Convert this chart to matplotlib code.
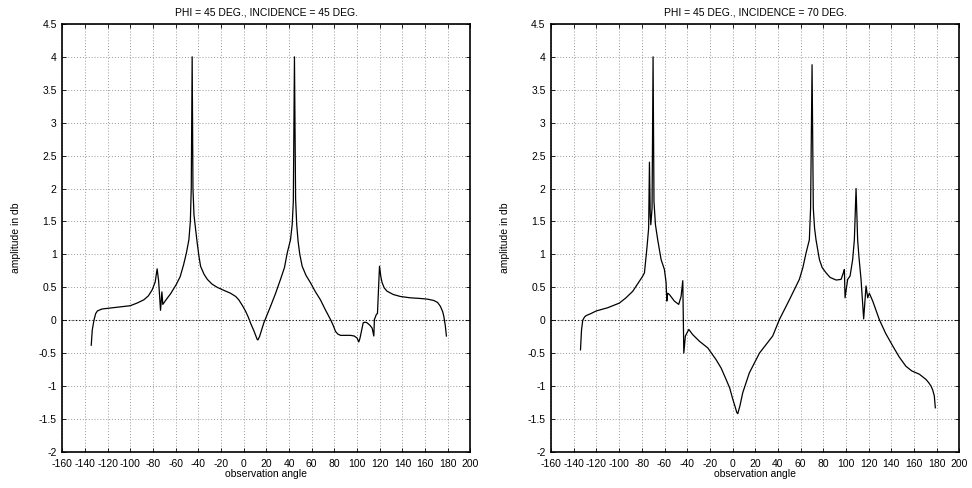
import matplotlib
matplotlib.use('Agg')
import matplotlib.pyplot as plt
from matplotlib.ticker import MultipleLocator, FormatStrFormatter

plt.rcParams['font.family'] = ['Liberation Sans Narrow', 'Liberation Sans', 'DejaVu Sans']
plt.rcParams['axes.unicode_minus'] = False

# Panel izquierdo: incidencia 45 grados
ang_45 = [-134.4, -133.5, -132.0, -130.5, -129.0, -125.0, -120.0, -110.0, -100.0, -94.0,
          -88.0, -84.0, -80.7, -78.0, -76.3, -75.0, -73.3, -72.1, -71.3, -68.0,
          -64.5, -59.5, -56.0, -53.0, -50.5, -48.3, -47.0, -46.2, -45.4, -44.7,
          -43.8, -42.5, -41.0, -39.5, -38.0, -35.0, -32.0, -28.0, -23.4, -17.0,
          -11.6, -7.0, -4.3, -1.0, 1.6, 4.0, 6.0, 9.0, 11.9, 12.5,
          14.0, 17.8, 23.7, 28.0, 32.5, 36.0, 38.4, 41.3, 42.8, 43.8,
          44.8, 45.8, 46.8, 48.0, 49.5, 51.6, 55.0, 58.9, 63.0, 67.7,
          72.0, 76.6, 79.0, 81.0, 83.0, 85.4, 90.0, 94.2, 97.5, 100.0,
          101.5, 102.5, 103.6, 105.4, 107.0, 108.9, 111.5, 113.3, 114.8, 115.3,
          117.1, 118.0, 119.8, 121.0, 122.1, 124.0, 126.5, 132.0, 138.3, 147.0,
          155.9, 162.0, 167.6, 171.0, 173.5, 175.5, 176.5, 177.8, 178.8]
amp_45 = [-0.38, -0.15, 0.00, 0.10, 0.14, 0.17, 0.18, 0.20, 0.22, 0.26,
          0.31, 0.37, 0.46, 0.58, 0.78, 0.60, 0.15, 0.43, 0.24, 0.32,
          0.40, 0.54, 0.66, 0.84, 1.02, 1.22, 1.50, 2.00, 4.00, 2.00,
          1.60, 1.40, 1.18, 0.98, 0.82, 0.70, 0.62, 0.55, 0.50, 0.45,
          0.41, 0.36, 0.31, 0.22, 0.14, 0.05, -0.04, -0.16, -0.29, -0.30,
          -0.25, -0.04, 0.21, 0.40, 0.62, 0.80, 1.02, 1.22, 1.45, 1.80,
          4.00, 1.85, 1.45, 1.20, 1.00, 0.82, 0.68, 0.57, 0.44, 0.31,
          0.16, 0.01, -0.08, -0.17, -0.21, -0.23, -0.23, -0.23, -0.24, -0.27,
          -0.33, -0.28, -0.19, -0.04, -0.03, -0.04, -0.08, -0.12, -0.24, 0.01,
          0.09, 0.10, 0.82, 0.66, 0.57, 0.49, 0.44, 0.39, 0.36, 0.34,
          0.33, 0.32, 0.30, 0.27, 0.21, 0.13, 0.06, -0.08, -0.24]

# Panel derecho: incidencia 70 grados
ang_70 = [-134.1, -133.2, -132.1, -130.5, -129.1, -125.0, -120.3, -110.0, -99.8, -94.0,
          -88.0, -83.0, -79.2, -77.7, -75.5, -74.0, -73.3, -72.6, -72.1, -71.0,
          -70.1, -69.3, -68.0, -66.0, -63.0, -60.1, -58.6, -58.0, -57.2, -55.7,
          -51.3, -47.5, -45.4, -43.9, -43.0, -41.6, -38.6, -35.1, -29.2, -21.9,
          -14.5, -10.0, -5.7, -2.5, 0.2, 2.0, 3.7, 4.6, 6.5, 9.0,
          14.8, 23.7, 35.4, 41.3, 50.1, 58.9, 62.0, 64.8, 67.7, 68.8,
          70.1, 71.2, 72.3, 73.6, 76.6, 79.0, 82.4, 86.0, 91.3, 95.7,
          97.7, 98.6, 99.2, 101.5, 103.6, 105.9, 107.4, 108.9, 110.3, 111.5,
          113.3, 115.6, 117.7, 119.2, 120.6, 123.6, 129.4, 135.0, 141.2, 147.0,
          152.9, 158.0, 164.7, 170.6, 173.0, 175.0, 176.5, 177.9, 178.8]
amp_70 = [-0.45, -0.15, 0.00, 0.05, 0.07, 0.10, 0.14, 0.19, 0.26, 0.34,
          0.44, 0.57, 0.67, 0.72, 1.10, 1.40, 2.40, 1.60, 1.45, 1.70,
          4.00, 1.80, 1.45, 1.22, 0.92, 0.77, 0.57, 0.29, 0.41, 0.39,
          0.29, 0.24, 0.36, 0.60, -0.50, -0.24, -0.14, -0.22, -0.32, -0.42,
          -0.60, -0.73, -0.90, -1.03, -1.20, -1.30, -1.40, -1.42, -1.30, -1.10,
          -0.80, -0.50, -0.24, 0.01, 0.31, 0.62, 0.80, 1.02, 1.22, 1.70,
          3.88, 1.70, 1.40, 1.22, 0.92, 0.80, 0.72, 0.65, 0.61, 0.62,
          0.72, 0.77, 0.34, 0.62, 0.67, 0.92, 1.22, 2.00, 1.22, 0.95,
          0.62, 0.02, 0.52, 0.34, 0.41, 0.29, 0.01, -0.20, -0.39, -0.56,
          -0.70, -0.77, -0.82, -0.90, -0.95, -1.00, -1.06, -1.15, -1.33]

titulos = ['PHI = 45 DEG., INCIDENCE = 45 DEG.', 'PHI = 45 DEG., INCIDENCE = 70 DEG.']
series = [(ang_45, amp_45), (ang_70, amp_70)]
posiciones = [[0.064, 0.074, 0.420, 0.877], [0.567, 0.074, 0.420, 0.877]]

fig = plt.figure(figsize=(9.72, 4.88), dpi=100, facecolor='white')

for pos, titulo, (x, y) in zip(posiciones, titulos, series):
    ax = fig.add_axes(pos)
    ax.plot(x, y, color='black', linewidth=0.9)
    ax.set_xlim(-160, 200)
    ax.set_ylim(-2, 4.5)
    ax.xaxis.set_major_locator(MultipleLocator(20))
    ax.yaxis.set_major_locator(MultipleLocator(0.5))
    ax.xaxis.set_major_formatter(FormatStrFormatter('%g'))
    ax.yaxis.set_major_formatter(FormatStrFormatter('%g'))
    ax.grid(True, color='#999999', linestyle=(0, (1, 2)), linewidth=0.7)
    ax.axhline(0, color='black', linestyle=(0, (1, 2)), linewidth=0.8)
    ax.tick_params(direction='in', length=3, width=0.6, labelsize=7.5,
                   top=True, right=True)
    ax.tick_params(axis='x', pad=5)
    ax.tick_params(axis='y', pad=4)
    for s in ax.spines.values():
        s.set_linewidth(1.2)
    ax.set_title(titulo, fontsize=7.5, pad=6)
    ax.set_xlabel('observation angle', fontsize=7.5, labelpad=0)
    ax.set_ylabel('amplitude in db', fontsize=7.5, labelpad=13)

fig.savefig('out.png', dpi=100)
